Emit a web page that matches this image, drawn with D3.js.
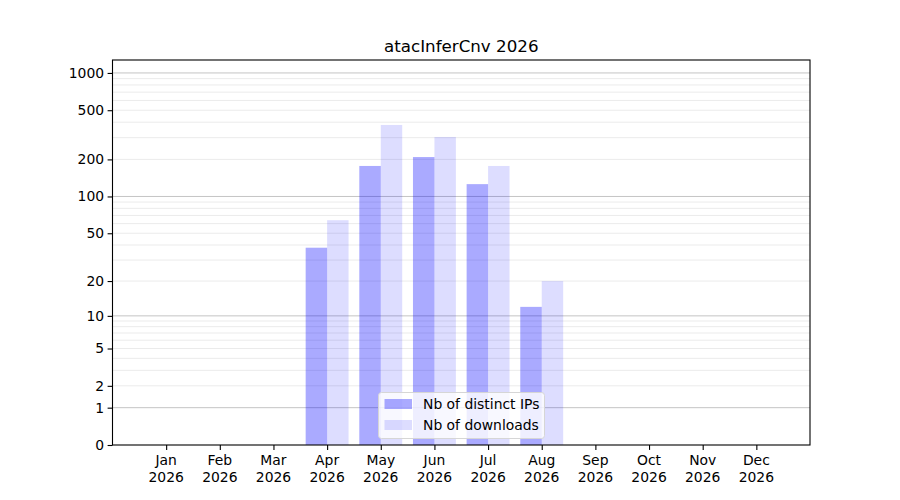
<!DOCTYPE html>
<html>
<head>
<meta charset="utf-8">
<script src="https://cdn.jsdelivr.net/npm/d3@7"></script>
<style>
  body { margin: 0; background: #fff; }
  text { font-family: "DejaVu Sans", sans-serif; }
</style>
</head>
<body>
<div id="chart"></div>
<script>
// months on the x axis
var months = ["Jan", "Feb", "Mar", "Apr", "May", "Jun", "Jul", "Aug", "Sep", "Oct", "Nov", "Dec"];
var year = "2026";

// values (0 where no bar)
var distinctIPs = [0, 0, 0, 38, 177, 209, 126, 12, 0, 0, 0, 0];
var downloads   = [0, 0, 0, 64, 380, 304, 177, 20, 0, 0, 0, 0];

var yTicks = [0, 1, 2, 5, 10, 20, 50, 100, 200, 500, 1000];
var majorGrid = [1, 10, 100, 1000];
var minorGrid = [2, 3, 4, 5, 6, 7, 8, 9, 20, 30, 40, 50, 60, 70, 80, 90,
                 200, 300, 400, 500, 600, 700, 800, 900];

var seriesNames = ["Nb of distinct IPs", "Nb of downloads"];

var W = 900, H = 500;
var margin = { left: 112.5, right: 90, top: 60, bottom: 55 };

var svg = d3.select("#chart").append("svg")
    .attr("width", W).attr("height", H);

// x is numeric: month index, with one unit of room on each side
var x = d3.scaleLinear().domain([-1, 12]).range([margin.left, W - margin.right]);

// y behaves like log10(v + 1)
var y = d3.scaleSymlog().constant(1).domain([0, 1272]).range([H - margin.bottom, margin.top]);

var barW = 0.4;

// grid first, bars are see-through on top of it
svg.append("g").selectAll("line").data(minorGrid).join("line")
    .attr("x1", x(-1)).attr("x2", x(12))
    .attr("y1", d => y(d)).attr("y2", d => y(d))
    .attr("stroke", "#ebebeb").attr("stroke-width", 1);

svg.append("g").selectAll("line").data(majorGrid).join("line")
    .attr("x1", x(-1)).attr("x2", x(12))
    .attr("y1", d => y(d)).attr("y2", d => y(d))
    .attr("stroke", "#c4c4c4").attr("stroke-width", 1);

// bars
var bars = svg.append("g");
bars.selectAll("rect.ips").data(distinctIPs).join("rect")
    .attr("class", "ips")
    .attr("x", (d, i) => x(i - barW))
    .attr("width", x(barW) - x(0))
    .attr("y", d => y(d))
    .attr("height", d => y(0) - y(d))
    .attr("fill", "#0000ff").attr("fill-opacity", 0.333);

bars.selectAll("rect.dl").data(downloads).join("rect")
    .attr("class", "dl")
    .attr("x", (d, i) => x(i))
    .attr("width", x(barW) - x(0))
    .attr("y", d => y(d))
    .attr("height", d => y(0) - y(d))
    .attr("fill", "#0000ff").attr("fill-opacity", 0.133);

// axes
var xAxis = d3.axisBottom(x)
    .tickValues(d3.range(12))
    .tickSize(4.9)
    .tickPadding(3.5)
    .tickFormat("");
var gx = svg.append("g")
    .attr("transform", "translate(0," + y(0) + ")")
    .call(xAxis);
gx.select(".domain").remove();
gx.selectAll(".tick line").attr("stroke", "#000").attr("stroke-width", 1.1);
gx.selectAll(".tick").append("text")
    .attr("fill", "#000")
    .attr("text-anchor", "middle")
    .style("font-size", "13.9px")
    .each(function (d) {
        var t = d3.select(this);
        t.append("tspan").attr("x", -0.5).attr("y", 20).text(months[d]);
        t.append("tspan").attr("x", -0.5).attr("y", 36.5).text(year);
    });

var yAxis = d3.axisLeft(y)
    .tickValues(yTicks)
    .tickSize(4.9)
    .tickPadding(3.5)
    .tickFormat(d3.format("d"));
var gy = svg.append("g")
    .attr("transform", "translate(" + x(-1) + ",0)")
    .call(yAxis);
gy.select(".domain").remove();
gy.selectAll(".tick line").attr("stroke", "#000").attr("stroke-width", 1.1);
gy.selectAll(".tick text")
    .attr("fill", "#000")
    .style("font-size", "13.9px")
    .style("font-family", "DejaVu Sans");

// frame
svg.append("rect")
    .attr("x", x(-1)).attr("y", y.range()[1])
    .attr("width", x(12) - x(-1))
    .attr("height", y(0) - y.range()[1])
    .attr("fill", "none").attr("stroke", "#000").attr("stroke-width", 1.1);

// title
svg.append("text")
    .attr("x", (x(-1) + x(12)) / 2).attr("y", 52)
    .attr("text-anchor", "middle")
    .style("font-size", "16.7px")
    .text("atacInferCnv " + year);

// legend, lower center
var lg = svg.append("g").attr("transform", "translate(378.5,392.5)");
lg.append("rect")
    .attr("width", 166).attr("height", 46).attr("rx", 3)
    .attr("fill", "#fff").attr("fill-opacity", 0.8)
    .attr("stroke", "#d6d6d6").attr("stroke-width", 1);
seriesNames.forEach(function (name, i) {
    lg.append("rect")
        .attr("x", 6).attr("y", 6.5 + i * 21)
        .attr("width", 27.5).attr("height", 10)
        .attr("fill", "#0000ff").attr("fill-opacity", i === 0 ? 0.333 : 0.133);
    lg.append("text")
        .attr("x", 44.5).attr("y", 16.5 + i * 21)
        .style("font-size", "13.9px")
        .text(name);
});
</script>
</body>
</html>
